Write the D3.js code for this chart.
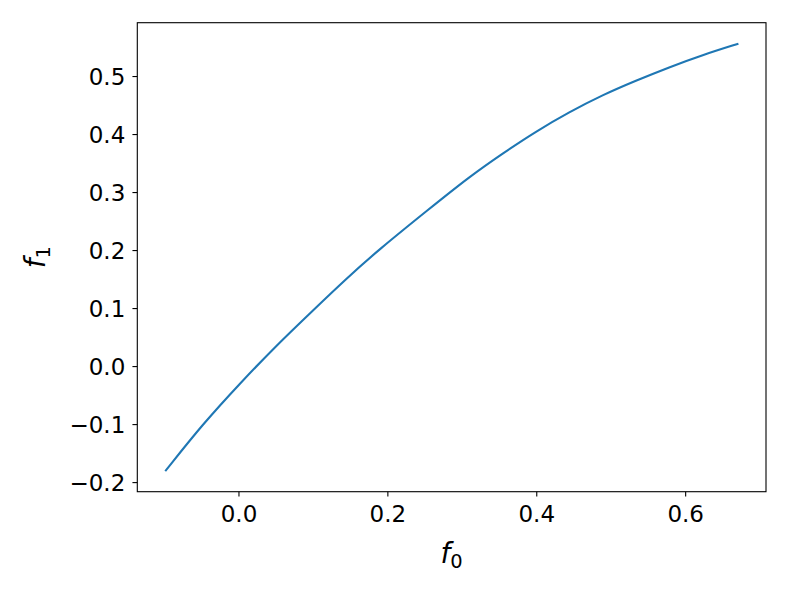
<!DOCTYPE html>
<html lang="en">
<head>
  <meta charset="UTF-8">
  <title>f0 vs f1</title>
  <script src="https://d3js.org/d3.v7.min.js"></script>
  <style>
    body { margin: 0; background: #fff; }
    text { font-family: "DejaVu Sans", sans-serif; fill: #000; }
  </style>
</head>
<body>

<script>
  // Values
  const f0 = [-0.0975, -0.0475, 0.0017, 0.051, 0.1001, 0.1449, 0.1873, 0.2566,
              0.3103, 0.3549, 0.3997, 0.4444, 0.4891, 0.5339, 0.5785, 0.6232, 0.6702];
  const f1 = [-0.1798, -0.0993, -0.0303, 0.0357, 0.096, 0.1507, 0.1995, 0.2714,
              0.3266, 0.3667, 0.4047, 0.4379, 0.4674, 0.4921, 0.5152, 0.5362, 0.5552];
  const xTicks = [0.0, 0.2, 0.4, 0.6];
  const yTicks = [-0.2, -0.1, 0.0, 0.1, 0.2, 0.3, 0.4, 0.5];

  const width = 789;
  const height = 592;
  const margin = { top: 22.7, right: 23, bottom: 100.3, left: 137.3 };
  const innerW = width - margin.left - margin.right;
  const innerH = height - margin.top - margin.bottom;

  // matplotlib-style 5% margins around the data
  function padded(values) {
    const [lo, hi] = d3.extent(values);
    const r = hi - lo;
    return [lo - 0.05 * r, hi + 0.05 * r];
  }

  const x = d3.scaleLinear().domain(padded(f0)).range([0, innerW]);
  const y = d3.scaleLinear().domain(padded(f1)).range([innerH, 0]);

  const svg = d3.select('body').append('svg')
    .attr('width', width)
    .attr('height', height);

  const g = svg.append('g')
    .attr('transform', `translate(${margin.left},${margin.top})`);

  const points = f0.map((v, i) => [v, f1[i]]);

  // basis curve smooths out small reading errors
  g.append('path')
    .datum(points)
    .attr('fill', 'none')
    .attr('stroke', '#1f77b4')
    .attr('stroke-width', 2.08)
    .attr('stroke-linecap', 'square')
    .attr('d', d3.line()
      .x(d => x(d[0]))
      .y(d => y(d[1]))
      .curve(d3.curveBasis));

  const fmt = d3.format('.1f');

  // x axis
  const xAxis = g.append('g')
    .attr('transform', `translate(0,${innerH})`)
    .call(d3.axisBottom(x).tickValues(xTicks).tickFormat(fmt).tickSize(4.86).tickPadding(0));
  xAxis.select('.domain').remove();
  xAxis.selectAll('line').attr('stroke', '#000').attr('stroke-width', 1.1);
  xAxis.selectAll('text')
    .attr('y', 30)
    .attr('dy', null)
    .style('font-size', '23px')
    .style('font-family', '"DejaVu Sans", sans-serif');

  // y axis
  const yAxis = g.append('g')
    .call(d3.axisLeft(y).tickValues(yTicks).tickFormat(fmt).tickSize(4.86).tickPadding(0));
  yAxis.select('.domain').remove();
  yAxis.selectAll('line').attr('stroke', '#000').attr('stroke-width', 1.1);
  yAxis.selectAll('text')
    .attr('x', -12)
    .attr('dy', '8.4px')
    .style('font-size', '23px')
    .style('font-family', '"DejaVu Sans", sans-serif');

  // frame
  g.append('rect')
    .attr('width', innerW)
    .attr('height', innerH)
    .attr('fill', 'none')
    .attr('stroke', '#000')
    .attr('stroke-width', 1.1);

  // axis labels
  const xl = svg.append('text')
    .attr('x', margin.left + innerW / 2)
    .attr('y', 563)
    .attr('text-anchor', 'middle')
    .style('font-size', '27.8px');
  xl.append('tspan').style('font-style', 'italic').text('f');
  xl.append('tspan').attr('dy', 5).style('font-size', '19.5px').text('0');

  const yl = svg.append('text')
    .attr('transform', `translate(45,${margin.top + innerH / 2}) rotate(-90)`)
    .attr('text-anchor', 'middle')
    .style('font-size', '27.8px');
  yl.append('tspan').style('font-style', 'italic').text('f');
  yl.append('tspan').attr('dy', 5).style('font-size', '19.5px').text('1');
</script>

</body>
</html>
